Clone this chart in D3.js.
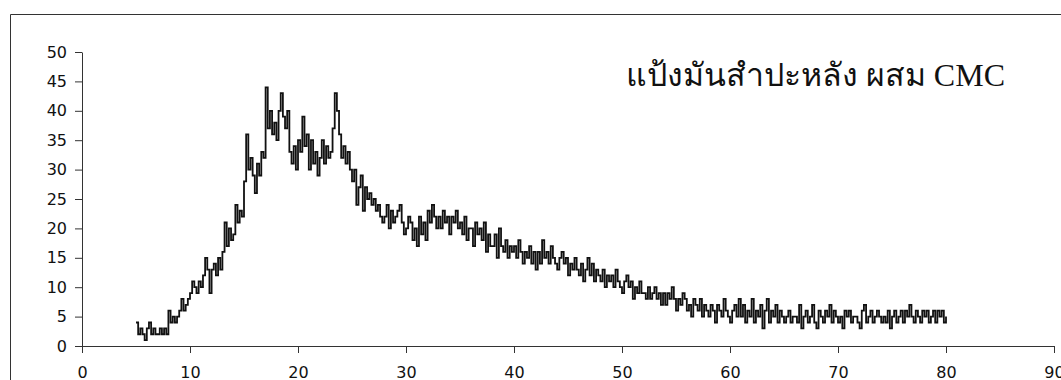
<!DOCTYPE html>
<html>
<head>
<meta charset="utf-8">
<script src="https://cdn.jsdelivr.net/npm/d3@7"></script>
<style>
  body { margin: 0; background: #fff; }
  .axis text { font-family: "DejaVu Sans", Arial, sans-serif; font-size: 16px; fill: #111; }
  .axis path, .axis line { stroke: #333; }
</style>
</head>
<body>
<svg id="chart" width="1061" height="380"></svg>
<script>
// 2-theta start/step and intensity readings (one row per degree, 0.2 step)
var xStart = 5, xStep = 0.2;
var counts = [
  4, 2, 3, 2, 1,    3, 4, 2, 3, 2,    2, 3, 2, 3, 2,    6, 4, 5, 4, 5,
  6, 8, 6, 7, 8,    9, 11, 10, 9, 11, 10, 12, 15, 13, 9, 13, 14, 12, 15, 13,
  16, 21, 17, 20, 18, 19, 24, 21, 23, 22, 28, 36, 30, 32, 29, 26, 31, 29, 33, 32,
  44, 37, 40, 36, 38, 35, 40, 43, 39, 37, 40, 33, 31, 34, 30, 35, 33, 39, 34, 36,
  30, 35, 31, 33, 29, 32, 35, 31, 34, 32, 33, 37, 43, 40, 36, 32, 34, 31, 33, 30,
  28, 30, 24, 27, 29, 23, 27, 25, 26, 24, 25, 23, 24, 22, 21, 22, 24, 20, 23, 21,
  22, 23, 24, 21, 19, 20, 22, 21, 18, 20, 17, 22, 19, 21, 18, 23, 21, 24, 22, 20,
  22, 20, 23, 21, 22, 19, 22, 21, 23, 20, 21, 19, 22, 18, 20, 20, 17, 21, 19, 20,
  18, 21, 16, 19, 17, 17, 19, 15, 20, 17, 16, 18, 15, 17, 16, 17, 15, 18, 16, 14,
  16, 15, 17, 14, 16, 13, 16, 14, 18, 15, 16, 14, 17, 15, 14, 13, 15, 16, 14, 15,
  12, 14, 13, 15, 13, 12, 14, 11, 13, 15, 12, 14, 11, 13, 12, 11, 13, 10, 12, 11,
  12, 10, 13, 11, 10, 9, 11, 12, 10, 11, 8, 10, 9, 11, 9,  9, 8, 10, 8, 9,
  10, 8, 9, 7, 9,   7, 9, 8, 10, 8,   6, 8, 7, 9, 8,    6, 7, 5, 8, 7,
  6, 8, 5, 7, 6,    5, 7, 6, 4, 7,    6, 5, 8, 6, 5,    4, 6, 7, 5, 8,
  5, 7, 4, 6, 5,    8, 4, 6, 5, 7,    3, 6, 8, 4, 6,    5, 7, 4, 6, 5,
  4, 5, 6, 4, 5,    5, 4, 7, 3, 5,    6, 4, 5, 7, 4,    3, 6, 5, 4, 6,
  5, 7, 4, 6, 5,    4, 5, 3, 6, 5,    6, 4, 5, 5, 4,    3, 6, 7, 4, 5,
  6, 4, 5, 6, 5,    4, 5, 4, 6, 3,    5, 6, 4, 5, 6,    4, 6, 5, 7, 5,
  4, 6, 5, 4, 6,    5, 6, 4, 5, 6,    4, 6, 5, 6, 4,    5
];
var xTicks = [0, 10, 20, 30, 40, 50, 60, 70, 80, 90];
var yTicks = [0, 5, 10, 15, 20, 25, 30, 35, 40, 45, 50];
var title = "แป้งมันสำปะหลัง ผสม CMC";

var svg = d3.select("#chart");

// scanned frame: top and left edges only are visible
svg.append("path")
    .attr("d", "M10.5,400V14.5H1061")
    .attr("fill", "none").attr("stroke", "#333").attr("stroke-width", 1);

var x = d3.scaleLinear().domain([0, 90]).range([82, 1054]);
var y = d3.scaleLinear().domain([0, 50]).range([346, 52]);

svg.append("g")
    .attr("class", "axis")
    .attr("transform", "translate(0," + y(0) + ")")
    .call(d3.axisBottom(x).tickValues(xTicks).tickSize(7).tickPadding(14).tickSizeOuter(0));

svg.append("g")
    .attr("class", "axis")
    .attr("transform", "translate(" + x(0) + ",0)")
    .call(d3.axisLeft(y).tickValues(yTicks).tickSize(7).tickPadding(8).tickSizeOuter(0));

var pts = counts.map(function(c, i) { return [xStart + i * xStep, c]; });

var line = d3.line()
    .x(function(d) { return x(d[0]); })
    .y(function(d) { return y(d[1]); })
    .curve(d3.curveStepAfter);

svg.append("path")
    .datum(pts)
    .attr("fill", "none")
    .attr("stroke", "#111")
    .attr("stroke-width", 1.8)
    .attr("d", line);

svg.append("text")
    .attr("x", 1005).attr("y", 86)
    .attr("text-anchor", "end")
    .style("font-family", "'Liberation Serif', 'Times New Roman', serif")
    .style("font-size", "32px")
    .style("fill", "#111")
    .text(title);
</script>
</body>
</html>
